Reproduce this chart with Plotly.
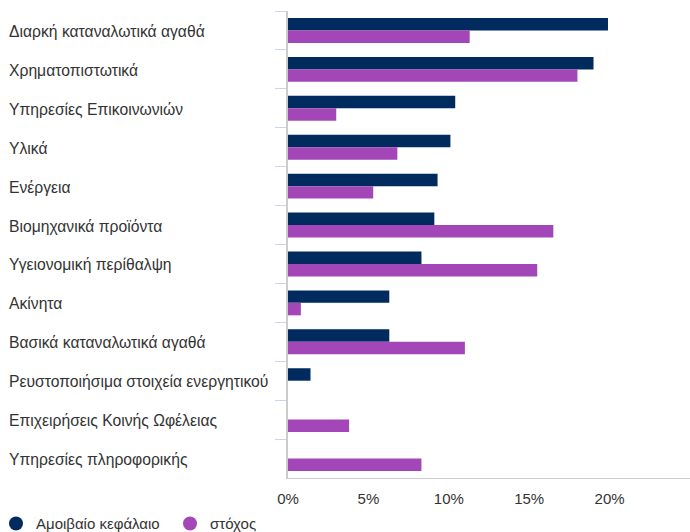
import plotly.graph_objects as go

categories = [
    "Διαρκή καταναλωτικά αγαθά",
    "Χρηματοπιστωτικά",
    "Υπηρεσίες Επικοινωνιών",
    "Υλικά",
    "Ενέργεια",
    "Βιομηχανικά προϊόντα",
    "Υγειονομική περίθαλψη",
    "Ακίνητα",
    "Βασικά καταναλωτικά αγαθά",
    "Ρευστοποιήσιμα στοιχεία ενεργητικού",
    "Επιχειρήσεις Κοινής Ωφέλειας",
    "Υπηρεσίες πληροφορικής",
]
fund_values = [19.9, 19.0, 10.4, 10.1, 9.3, 9.1, 8.3, 6.3, 6.3, 1.4, 0, 0]
target_values = [11.3, 18.0, 3.0, 6.8, 5.3, 16.5, 15.5, 0.8, 11.0, 0, 3.8, 8.3]
series_names = ["Αμοιβαίο κεφάλαιο", "στόχος"]
x_tick_values = [0, 5, 10, 15, 20]
x_tick_labels = ["0%", "5%", "10%", "15%", "20%"]

NAVY = "#012a5e"
PURPLE = "#a346b8"
FONT = "Liberation Sans, Arial, sans-serif"
TEXT = "#333333"

W, H = 690, 532
ML, MR, MT, MB = 288, 0, 11, 54
plot_w = W - ML - MR
plot_h = H - MT - MB

fig = go.Figure()
fig.add_trace(go.Bar(y=categories, x=fund_values, orientation="h", name=series_names[0],
                     marker=dict(color=NAVY, line=dict(width=0)), showlegend=False))
fig.add_trace(go.Bar(y=categories, x=target_values, orientation="h", name=series_names[1],
                     marker=dict(color=PURPLE, line=dict(width=0)), showlegend=False))
# legend entries with round markers
for name, col in zip(series_names, [NAVY, PURPLE]):
    fig.add_trace(go.Scatter(x=[None], y=[None], mode="markers", name=name,
                             marker=dict(color=col, size=14, symbol="circle")))

# left-aligned category labels
for c in categories:
    fig.add_annotation(x=(8 - ML) / plot_w, xref="paper", y=c, yref="y", text=c,
                       showarrow=False, xanchor="left", yanchor="middle", xshift=-1, yshift=-1,
                       font=dict(family=FONT, size=15.7, color=TEXT))

fig.update_layout(
    width=W, height=H,
    margin=dict(l=ML, r=MR, t=MT, b=MB, autoexpand=False),
    paper_bgcolor="white", plot_bgcolor="white",
    barmode="group", bargap=0.36, bargroupgap=0,
    font=dict(family=FONT, size=15, color=TEXT),
    legend=dict(orientation="h", x=(-4 - ML) / plot_w, xanchor="left",
                y=-0.098, yanchor="middle", entrywidth=129,
                font=dict(family=FONT, size=15, color=TEXT), itemclick=False,
                bgcolor="rgba(0,0,0,0)"),
    xaxis=dict(range=[0, 25], tickvals=x_tick_values, ticktext=x_tick_labels,
               showgrid=False, zeroline=False, showline=True, linecolor="#cccccc", linewidth=1,
               ticks="outside", ticklen=7, tickcolor="rgba(0,0,0,0)",
               tickfont=dict(family=FONT, size=15, color=TEXT), fixedrange=True),
    yaxis=dict(autorange="reversed", showticklabels=False, showgrid=False, zeroline=False,
               showline=True, linecolor="#cccccc", linewidth=1.5,
               ticks="outside", ticklen=11, tickcolor="#ccd6eb", tickwidth=1,
               tickson="boundaries", fixedrange=True),
)

fig.write_html("out.html", config={"displayModeBar": False},
               post_script="document.body.style.margin='0';")
